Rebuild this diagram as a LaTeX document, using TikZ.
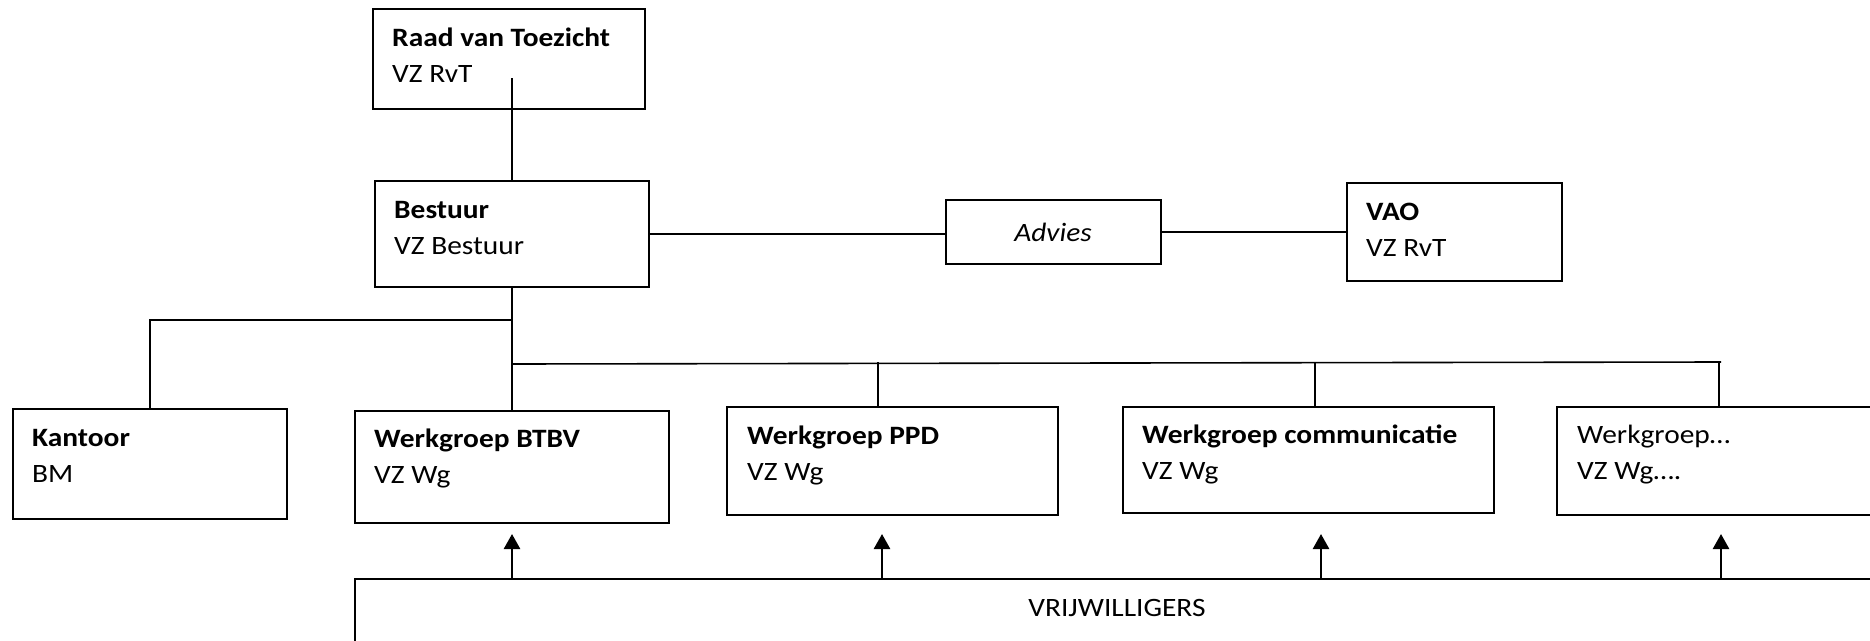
\documentclass[tikz,border=0pt]{standalone}
\usepackage{fontspec}
\setmainfont{Carlito}[FakeStretch=1.11]
\usetikzlibrary{arrows.meta}
\tikzset{>={Triangle[width=16pt,length=15pt]}}
\tikzset{box/.style={draw, line width=2pt, inner sep=0pt, anchor=north west},
    txt/.style={anchor=base west, inner sep=0pt},
    conn/.style={line width=1.6pt},
    arr/.style={->, line width=2.6pt}}
\newcommand{\boxlines}[2]{\begin{tabular}[t]{@{}l@{}}#1\\#2\end{tabular}}

\begin{document}
\begin{tikzpicture}[x=1pt, y=1pt, font=\fontsize{26.5}{36}\selectfont]
    \clip (0,0) rectangle (1870,-640);
    % top levels
    \node[box, minimum width=272, minimum height=100] (raad) at (372,-8) {};
    \node[txt] (raadtxt) at ([shift={(20,-38)}]raad.north west) {\boxlines{\textbf{Raad van Toezicht}}{VZ RvT}};
    \node[box, minimum width=274, minimum height=106] (bestuur) at (374,-180) {};
    \node[txt] (bestuurtxt) at ([shift={(20,-38)}]bestuur.north west) {\boxlines{\textbf{Bestuur}}{VZ Bestuur}};
    \node[box, anchor=center, minimum width=215, minimum height=64] (advies) at (1053,-232) {\textit{Advies}};
    \node[box, minimum width=215, minimum height=98] (vao) at (1346,-182) {};
    \node[txt] (vaotxt) at ([shift={(20,-38)}]vao.north west) {\boxlines{\textbf{VAO}}{VZ RvT}};
    % werkgroepen
    \node[box, minimum width=274, minimum height=110] (kantoor) at (12,-408) {};
    \node[txt] (kantoortxt) at ([shift={(20,-38)}]kantoor.north west) {\boxlines{\textbf{Kantoor}}{BM}};
    \node[box, minimum width=314, minimum height=112] (btbv) at (354,-410) {};
    \node[txt] (btbvtxt) at ([shift={(20,-37)}]btbv.north west) {\boxlines{\textbf{Werkgroep BTBV}}{VZ Wg}};
    \node[box, minimum width=331, minimum height=108] (ppd) at (726,-406) {};
    \node[txt] (ppdtxt) at ([shift={(21,-38)}]ppd.north west) {\boxlines{\textbf{Werkgroep PPD}}{VZ Wg}};
    \node[box, minimum width=371, minimum height=106] (comm) at (1122,-406) {};
    \node[txt] (commtxt) at ([shift={(20,-37)}]comm.north west) {\boxlines{\textbf{Werkgroep communicatie}}{VZ Wg}};
    \node[box, minimum width=400, minimum height=108] (meer) at (1556,-406) {};
    \node[txt] (meertxt) at ([shift={(21,-37)}]meer.north west) {\boxlines{Werkgroep\dots}{VZ Wg\dots.}};
    % vrijwilligers
    \node[box, minimum width=1524, minimum height=120] (vrij) at (354,-578) {};
    \node[anchor=base, inner sep=0pt] (vrijtxt) at ([yshift=-38]vrij.north) {VRIJWILLIGERS};

    % lines
    \draw[conn] (bestuur.north) -- ([yshift=32]raad.south -| bestuur.north);
    \draw[conn] (bestuur.east) -- (bestuur.east -| advies.west);
    \draw[conn] (advies.east) -- (advies.east -| vao.west);
    \coordinate (kbus) at ([yshift=-32]bestuur.south);
    \coordinate (wbus) at ([yshift=-76]bestuur.south);
    \draw[conn] (bestuur.south) -- (btbv.north -| bestuur.south);
    \draw[conn] (kbus) -| (kantoor.north);
    \draw[conn] (wbus) -- (1721,-362);
    \foreach \x/\n in {878/ppd, 1315/comm, 1719/meer}
        \draw[conn] (\x,-362) -- (\x,0 |- \n.north);
    \foreach \x in {512, 882, 1321, 1721}
        \draw[arr] (\x,0 |- vrij.north) -- (\x,-534);
\end{tikzpicture}
\end{document}
